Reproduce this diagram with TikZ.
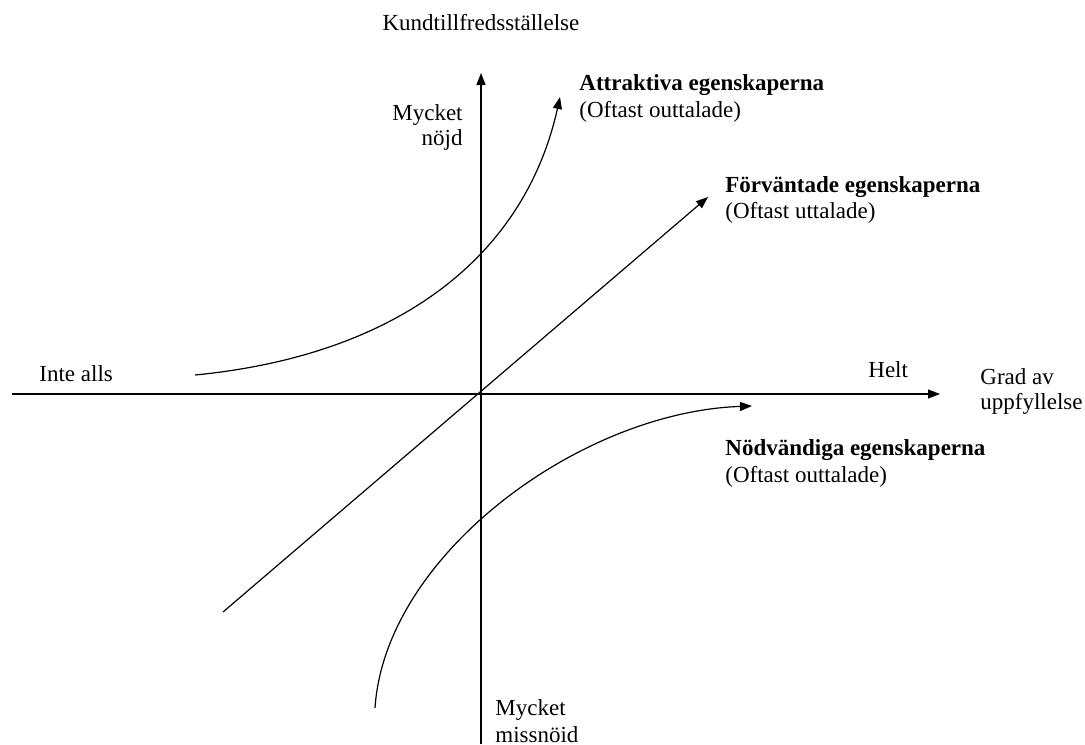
\documentclass[tikz,border=0pt]{standalone}
\usepackage{fontspec}
\setmainfont{Liberation Serif}
\usepackage{tikz}
\usetikzlibrary{arrows.meta,positioning}

\begin{document}
\begin{tikzpicture}[x=0.5pt,y=-0.5pt,
    >={Triangle[length=6pt,width=4.5pt]},
    every node/.style={inner sep=0pt,font=\fontsize{11.5}{13}\selectfont},
    lbl/.style={anchor=base west},
    curve/.style={line width=0.6pt,->}]
\useasboundingbox (0,0) rectangle (1085,744);

% Axes
\coordinate (xl) at (12,394);
\coordinate (xr) at (940,394);
\coordinate (yb) at (481,744);
\coordinate (yt) at (481,73);
\draw[curve] (xl) -- (xr);
\draw[curve] (yb) -- (yt);

% Axis labels
\node[anchor=base] (ylab) at (481,31) {Kundtillfredsställelse};
\node[anchor=base east] (nojd1) at (463,120) {Mycket};
\node[anchor=base east] (nojd2) at (463,145) {nöjd};
\node[lbl] (miss1) at (495,715) {Mycket};
\node[lbl] (miss2) at (495,742) {missnöid};
\node[lbl] (inte) at (39,381) {Inte alls};
\node[lbl] (helt) at (868,377) {Helt};
\node[lbl] (grad1) at (980,384) {Grad av};
\node[lbl] (grad2) at (980,409) {uppfyllelse};

% Curves
\coordinate (a0) at (195,375);
\coordinate (a1) at (560,97);
\draw[curve] (a0) .. controls (400,355) and (525,255) .. (a1);
\coordinate (f0) at (223,612);
\coordinate (f1) at (708,197);
\draw[curve] (f0) -- (f1);
\coordinate (n0) at (375,708);
\coordinate (n1) at (752,406);
\draw[curve] (n0) .. controls (385,555) and (580,412) .. (n1);

% Curve labels
\node[lbl] (att1) at (579,90) {\textbf{Attraktiva egenskaperna}};
\node[lbl] (att2) at (579,117) {(Oftast outtalade)};
\node[lbl] (forv1) at (725,192) {\textbf{Förväntade egenskaperna}};
\node[lbl] (forv2) at (725,218) {(Oftast uttalade)};
\node[lbl] (nodv1) at (725,455) {\textbf{Nödvändiga egenskaperna}};
\node[lbl] (nodv2) at (725,482) {(Oftast outtalade)};
\end{tikzpicture}
\end{document}
